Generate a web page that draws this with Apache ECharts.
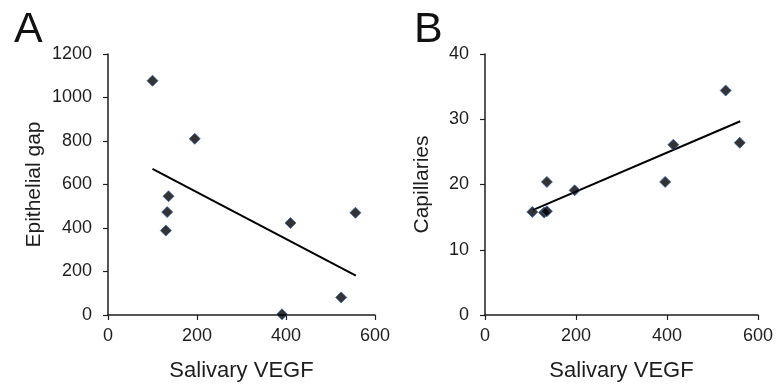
<!DOCTYPE html>
<html>
<head>
<meta charset="utf-8">
<script src="https://cdn.jsdelivr.net/npm/echarts@6/dist/echarts.min.js"></script>
<style>
  html, body { margin: 0; padding: 0; background: #fff; }
  #chart { width: 776px; height: 388px; }
</style>
</head>
<body>
<div id="chart"></div>
<script>
// panel A: salivary VEGF vs epithelial gap
const vegfA = [100, 195, 136, 133, 130, 410, 556, 524, 391];
const gapA = [1077, 810, 546, 473, 388, 423, 470, 81, 3];
const trendA = [[100, 672], [557, 181]];

// panel B: salivary VEGF vs capillaries
const vegfB = [104, 130, 136, 136, 197, 396, 414, 529, 560];
const capB = [15.8, 15.7, 15.9, 20.4, 19.1, 20.4, 26.1, 34.4, 26.4];
const trendB = [[106, 16.1], [561, 29.7]];

const font = "'Liberation Sans', Arial, sans-serif";
const axisColor = "#1e1e1e";

const pairs = (xs, ys) => xs.map((x, i) => [x, ys[i]]);

const xAxisOpt = (idx) => ({
  gridIndex: idx,
  type: "value",
  min: 0,
  max: 600,
  interval: 200,
  name: "Salivary VEGF",
  nameLocation: "middle",
  nameGap: 45,
  nameTextStyle: { fontFamily: font, fontSize: 22, color: axisColor },
  axisLine: { lineStyle: { color: axisColor, width: 1.5 } },
  axisTick: { show: true, inside: false, length: 5, lineStyle: { color: axisColor, width: 1.2 } },
  axisLabel: { fontFamily: font, fontSize: 18, color: axisColor, margin: 12 },
  splitLine: { show: false },
});

const yAxisOpt = (idx, max, interval, name, gap) => ({
  gridIndex: idx,
  type: "value",
  min: 0,
  max: max,
  interval: interval,
  name: name,
  nameLocation: "middle",
  nameGap: gap,
  nameTextStyle: { fontFamily: font, fontSize: 21, color: axisColor },
  axisLine: { show: true, lineStyle: { color: axisColor, width: 1.5 } },
  axisTick: { show: true, inside: false, length: 5, lineStyle: { color: axisColor, width: 1.2 } },
  axisLabel: { fontFamily: font, fontSize: 18, color: axisColor, margin: 16, formatter: (v) => String(v) },
  splitLine: { show: false },
});

const dots = (idx, data) => ({
  type: "scatter",
  xAxisIndex: idx,
  yAxisIndex: idx,
  symbol: "diamond",
  symbolSize: 11,
  itemStyle: { color: "#000000", borderColor: "#3560a8", borderWidth: 1 },
  data: data,
  z: 3,
});

const trend = (idx, data) => ({
  type: "line",
  xAxisIndex: idx,
  yAxisIndex: idx,
  symbol: "none",
  lineStyle: { color: "#000", width: 2 },
  data: data,
  z: 2,
});

const option = {
  animation: false,
  backgroundColor: "#fff",
  title: [
    { text: "A", left: 9, top: 4, textStyle: { fontFamily: font, fontSize: 43, fontWeight: "normal", color: "#111" } },
    { text: "B", left: 409, top: 4, textStyle: { fontFamily: font, fontSize: 43, fontWeight: "normal", color: "#111" } },
  ],
  grid: [
    { left: 108, right: 401, top: 54, bottom: 73 },
    { left: 485, right: 18, top: 54, bottom: 73 },
  ],
  xAxis: [xAxisOpt(0), xAxisOpt(1)],
  yAxis: [
    yAxisOpt(0, 1200, 200, "Epithelial gap", 63),
    yAxisOpt(1, 40, 10, "Capillaries", 52),
  ],
  series: [
    trend(0, trendA),
    dots(0, pairs(vegfA, gapA)),
    trend(1, trendB),
    dots(1, pairs(vegfB, capB)),
  ],
};

const myChart = echarts.init(document.getElementById("chart"));
myChart.setOption(option);
</script>
</body>
</html>
